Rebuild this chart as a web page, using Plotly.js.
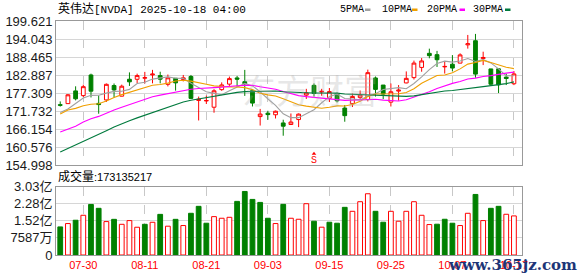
<!DOCTYPE html>
<html>
<head>
<meta charset="utf-8">
<script src="https://cdn.plot.ly/plotly-3.0.1.min.js"></script>
<style>html,body{margin:0;padding:0;background:#fff;}#chart{width:578px;height:276px;}</style>
</head>
<body>
<div id="chart"></div>
<script>
const dates = ['07-25','07-28','07-29','07-30','07-31','08-01','08-04','08-05','08-06','08-07',
'08-08','08-11','08-12','08-13','08-14','08-15','08-18','08-19','08-20','08-21',
'08-22','08-25','08-26','08-27','08-28','08-29','09-02','09-03','09-04','09-05',
'09-08','09-09','09-10','09-11','09-12','09-15','09-16','09-17','09-18','09-19',
'09-22','09-23','09-24','09-25','09-26','09-29','09-30','10-01','10-02','10-03',
'10-06','10-07','10-08','10-09','10-10','10-13','10-14','10-15','10-16','10-17'];

const open = [173.7,174.02,177.96,176.5,182.9,174.09,175.16,179.62,176.33,181.57,
181.56,181.9,182.9,182.7,180.0,181.88,181.5,182.43,175.0,174.85,
172.9,178.35,180.06,181.98,180.82,178.11,170.0,171.06,170.57,168.03,
167.55,169.08,176.64,179.68,177.6,175.67,177.0,172.64,173.98,175.9,
175.3,181.97,179.77,174.48,177.9,180.43,182.08,185.24,189.6,189.19,
185.4,186.23,186.57,192.23,193.51,187.97,184.77,184.8,182.23,180.18];
const high = [174.7,177.0,179.38,179.89,183.3,176.54,180.26,180.26,179.9,183.7,
183.3,183.85,184.48,183.9,183.03,181.9,182.9,182.9,176.2,176.5,
178.5,180.6,182.4,182.6,184.47,178.15,172.38,171.8,171.86,169.03,
170.96,170.98,178.6,180.28,178.6,178.85,177.5,173.6,177.1,178.08,
184.55,182.42,179.78,180.26,179.77,184.0,187.35,188.14,191.05,190.36,
187.23,189.06,189.6,195.3,195.62,190.11,184.8,184.87,183.28,184.1];
const low = [173.1,173.97,175.02,176.04,175.93,170.89,174.52,175.9,176.25,179.5,
180.4,180.25,180.3,180.3,179.35,178.04,180.9,175.5,168.8,173.9,
171.2,178.0,179.5,179.3,176.41,173.14,167.22,169.0,169.41,164.07,
167.46,166.73,175.47,176.2,176.45,174.51,174.38,168.41,172.96,175.18,
174.71,176.21,175.4,173.13,174.93,180.32,181.48,183.9,188.06,185.38,
183.33,184.0,186.54,191.06,182.05,185.96,179.7,177.29,179.77,179.75];
const close = [173.5,176.75,175.51,179.27,177.87,173.72,180.0,178.26,179.42,180.77,
182.7,182.06,183.16,181.59,182.02,180.45,182.01,175.64,175.4,174.98,
177.99,179.81,181.77,181.6,180.17,174.18,170.78,170.62,171.66,167.02,
168.31,170.76,177.33,177.17,177.82,177.75,174.88,170.29,176.24,176.67,
183.61,178.43,176.97,177.69,178.19,181.85,186.58,187.24,188.89,187.62,
185.54,185.04,189.11,192.57,183.16,188.32,180.03,179.83,181.81,183.22];

const ma5 = [171.29,172.36,174.06,175.75,176.58,176.62,177.27,177.82,177.85,178.43,
180.23,180.64,181.62,182.06,182.31,181.86,181.85,180.34,179.10,177.70,
177.20,176.76,177.99,179.23,180.27,179.51,177.70,175.47,173.48,170.85,
169.68,169.67,171.02,172.12,174.28,176.17,176.99,175.58,175.40,175.17,
176.34,177.05,178.38,178.67,178.98,178.63,180.26,182.31,184.55,186.44,
187.17,186.87,187.24,187.98,187.08,187.64,186.64,184.78,182.63,182.64];
const ma10 = [170.80,172.07,172.55,173.34,173.82,173.96,174.82,175.94,176.80,177.51,
178.43,178.96,179.72,179.96,180.37,181.04,181.24,180.98,180.58,180.00,
179.53,179.31,179.17,179.17,178.98,178.36,177.23,176.73,176.36,175.56,
174.59,173.69,173.24,172.80,172.57,172.92,173.33,173.30,173.76,174.72,
176.25,177.02,176.98,177.04,177.07,177.48,178.65,180.35,181.61,182.71,
182.90,183.56,184.78,186.26,186.76,187.41,186.75,186.01,185.30,184.86];
const ma20 = [165.19,166.14,167.01,168.31,169.34,170.06,171.15,172.06,172.89,173.72,
174.61,175.51,176.14,176.65,177.10,177.50,178.03,178.46,178.69,178.75,
178.98,179.13,179.44,179.56,179.68,179.70,179.24,178.86,178.47,177.78,
177.06,176.50,176.20,175.98,175.77,175.64,175.28,175.01,175.06,175.14,
175.42,175.35,175.11,174.92,174.82,175.20,175.99,176.82,177.68,178.71,
179.58,180.29,180.88,181.65,181.92,182.44,182.70,183.18,183.46,183.79];
const ma30 = [159.01,160.07,161.19,162.34,163.46,164.40,165.61,166.75,167.80,168.68,
169.60,170.41,171.25,172.19,173.02,173.72,174.51,175.04,175.45,175.82,
176.25,176.78,177.15,177.49,177.73,177.78,177.76,177.88,177.91,177.69,
177.52,177.32,177.38,177.31,177.31,177.44,177.27,177.00,176.90,176.76,
176.79,176.67,176.46,176.33,176.21,176.25,176.41,176.79,177.24,177.66,
177.91,178.09,178.33,178.70,178.80,179.27,179.58,179.89,180.22,180.76];

const volume = [124.5e6,139.3e6,154.0e6,176.0e6,224.0e6,206.8e6,148.0e6,158.0e6,136.0e6,152.5e6,
123.0e6,136.0e6,145.0e6,180.0e6,127.6e6,158.0e6,130.5e6,184.8e6,215.6e6,140.8e6,
170.0e6,162.8e6,167.0e6,237.5e6,281.5e6,246.3e6,233.0e6,162.8e6,139.3e6,224.3e6,
162.8e6,158.4e6,227.3e6,149.6e6,123.2e6,145.2e6,140.8e6,211.2e6,193.6e6,236.1e6,
271.3e6,193.6e6,145.2e6,193.6e6,149.6e6,193.6e6,236.1e6,176.0e6,134.9e6,136.4e6,
158.4e6,140.8e6,130.5e6,184.8e6,268.3e6,152.5e6,206.8e6,215.6e6,180.4e6,173135217];
const volumeDir = ['d','u','d','u','d','d','u','d','u','u',
'u','d','u','d','u','d','u','d','d','d',
'u','u','u','d','d','d','d','d','u','d',
'u','u','u','d','u','d','d','d','u','u',
'u','d','d','u','u','u','u','u','u','d',
'd','d','u','u','d','u','d','d','u','u'];

const xTickLabels = ['07-30','08-11','08-21','09-03','09-15','09-25','10-07','10-17'];
const priceTicks = [154.998,160.576,166.154,171.732,177.309,182.887,188.465,194.043,199.621];
const priceTickText = ['154.998','160.576','166.154','171.732','177.309','182.887','188.465','194.043','199.621'];
const volTickVals = [0,75870000,151740000,227610000,303480000];
const volTickText = ['0','7587万','1.52亿','2.28亿','3.03亿'];
const maNames = ['5PMA','10PMA','20PMA','30PMA'];
const signalDates = ['09-11'];
const signalText = ['S'];
const titleName = '英伟达';
const titleRest = '[NVDA] 2025-10-18 04:00';
const volLabel = '成交量';
const lastVolume = '173135217';

const RED = '#ff0000', GREEN = '#008000';
const maColors = ['#a0a0a0','#f0a000','#ff00ff','#007a3d'];

// pixel helpers (figure 578x276, plot area x 56..522, y 21..255)
const L = 56, R = 522, T = 21, B = 255;
const px = x => (x - L) / (R - L);
const py = y => (B - y) / (B - T);

const traces = [];
traces.push({
  type: 'candlestick', x: dates, open: open, high: high, low: low, close: close,
  xaxis: 'x', yaxis: 'y',
  increasing: {line: {color: RED, width: 1}, fillcolor: '#ffffff'},
  decreasing: {line: {color: GREEN, width: 1}, fillcolor: GREEN},
  whiskerwidth: 0, hoverinfo: 'skip', showlegend: false
});
[ma5, ma10, ma20, ma30].forEach((arr, k) => {
  traces.push({type: 'scatter', mode: 'lines', x: dates, y: arr, xaxis: 'x', yaxis: 'y',
    line: {color: maColors[k], width: 1.1}, hoverinfo: 'skip', showlegend: false});
});
traces.push({
  type: 'scatter', mode: 'markers', x: signalDates, y: signalDates.map(() => 158.5),
  xaxis: 'x', yaxis: 'y', marker: {symbol: 'triangle-up', size: 4, color: RED},
  hoverinfo: 'skip', showlegend: false, cliponaxis: false
});
traces.push({
  type: 'bar', x: dates, y: volume, xaxis: 'x2', yaxis: 'y2', width: 0.62,
  marker: {color: volumeDir.map(d => d === 'u' ? '#ffffff' : GREEN),
           line: {color: volumeDir.map(d => d === 'u' ? RED : GREEN), width: 1}},
  hoverinfo: 'skip', showlegend: false
});

const annotations = [];
annotations.push({xref: 'paper', yref: 'paper', x: px(56), y: py(9.5), xanchor: 'left', yanchor: 'middle',
  showarrow: false, text: '<span style="font-size:12px">' + titleName + '</span>' + titleRest,
  font: {family: 'Liberation Mono, Noto Sans CJK SC', size: 11, color: '#000'}});
const legX = [338, 380, 425, 471];
maNames.forEach((n, k) => {
  annotations.push({xref: 'paper', yref: 'paper', x: px(legX[k]), y: py(9.5), xanchor: 'left', yanchor: 'middle',
    showarrow: false, text: n, font: {family: 'Liberation Mono', size: 10, color: '#000'}});
});
annotations.push({xref: 'paper', yref: 'paper', x: px(56), y: py(176.5), xanchor: 'left', yanchor: 'middle',
  showarrow: false, text: '<span style="font-size:12px">' + volLabel + '</span>:' + lastVolume,
  font: {family: 'Liberation Sans, Noto Sans CJK SC', size: 11, color: '#000'}});
signalDates.forEach((d, k) => {
  annotations.push({xref: 'x', yref: 'y', x: d, y: 156.5, showarrow: false, text: signalText[k],
    font: {family: 'Liberation Mono', size: 10, color: RED}});
});
annotations.push({xref: 'paper', yref: 'paper', x: px(310), y: py(90), xanchor: 'center', yanchor: 'middle',
  showarrow: false, text: '东方财富', font: {family: 'Noto Sans CJK SC', size: 34, color: 'rgba(170,170,170,0.28)'}});
annotations.push({xref: 'paper', yref: 'paper', x: px(512), y: py(265), xanchor: 'center', yanchor: 'middle',
  showarrow: false, text: '<b>www.365jz.com</b>', font: {family: 'DejaVu Serif', size: 15, color: '#1d3577'}});

const shapes = [];
const dashX = [365, 412, 459.5, 505];
dashX.forEach((x, k) => {
  shapes.push({type: 'rect', xref: 'paper', yref: 'paper', x0: px(x), x1: px(x + 5.5), y0: py(11), y1: py(8.5),
    fillcolor: maColors[k], line: {width: 0}});
});

const axisCommon = {showline: true, mirror: true, linecolor: '#999', linewidth: 1, zeroline: false, fixedrange: true};
const layout = {
  width: 578, height: 276,
  margin: {l: L, r: 578 - R, t: T, b: 276 - B, pad: 0},
  paper_bgcolor: '#fff', plot_bgcolor: '#fff',
  showlegend: false, dragmode: false,
  xaxis: Object.assign({}, axisCommon, {type: 'category', domain: [0, 1], anchor: 'y', range: [-0.55, 60.05],
    tickvals: xTickLabels, showticklabels: false, ticks: '', showgrid: true, gridcolor: '#c8c8c8', griddash: 'dash',
    rangeslider: {visible: false}}),
  xaxis2: Object.assign({}, axisCommon, {type: 'category', domain: [0, 1], anchor: 'y2', range: [-0.55, 60.05],
    tickvals: xTickLabels, ticktext: xTickLabels, showticklabels: true, ticks: '', showgrid: true, gridcolor: '#c8c8c8', griddash: 'dash',
    tickfont: {family: 'Liberation Sans', size: 11, color: RED}}),
  yaxis: Object.assign({}, axisCommon, {domain: [py(165), 1], anchor: 'x', range: [154.998, 199.621],
    tickvals: priceTicks, ticktext: priceTickText, ticks: '', showgrid: true, gridcolor: '#d6d6d6',
    tickfont: {family: 'Liberation Sans', size: 13, color: '#1a1a1a'}}),
  yaxis2: Object.assign({}, axisCommon, {domain: [0, py(186.5)], anchor: 'x2', range: [0, 303480000],
    tickvals: volTickVals, ticktext: volTickText, ticks: '', showgrid: true, gridcolor: '#d6d6d6',
    tickfont: {family: 'Liberation Sans, Noto Sans CJK SC', size: 13, color: '#1a1a1a'}}),
  annotations: annotations,
  shapes: shapes
};

Plotly.newPlot('chart', traces, layout, {staticPlot: true, displayModeBar: false});
</script>
</body>
</html>
